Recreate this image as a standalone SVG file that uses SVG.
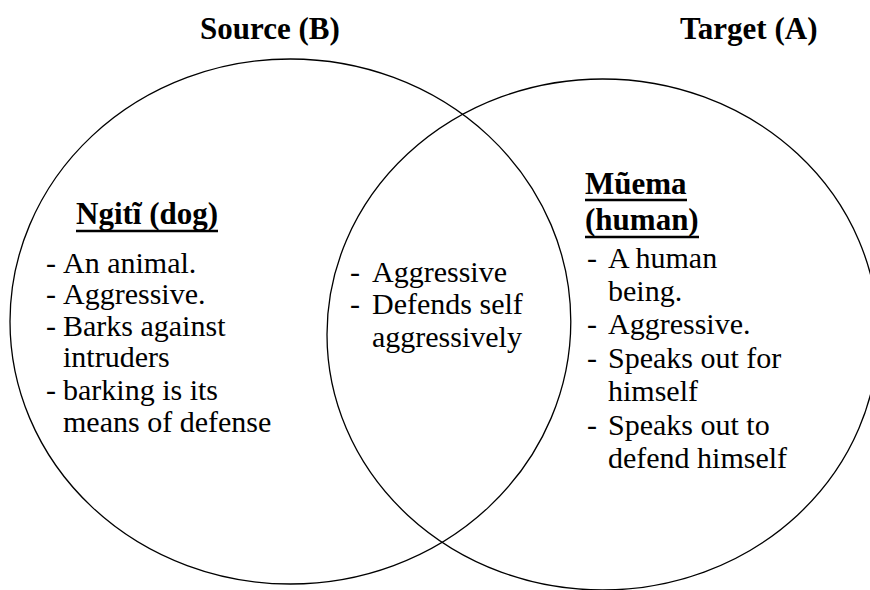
<svg xmlns="http://www.w3.org/2000/svg" width="870" height="590" viewBox="0 0 870 590">
  <style>
    .title { font-weight: bold; font-size: 31px; }
    .head { font-weight: bold; font-size: 31px; }
    .item { font-size: 30px; }
    .ring { fill: none; stroke: #000; stroke-width: 1.3; }
    .rule { stroke: #000; stroke-width: 2.4; }
  </style>
  <rect width="870" height="590" fill="#fff"/>

  <!-- set outlines -->
  <g id="sets">
    <ellipse id="source-set" class="ring" cx="290.4" cy="321.5" rx="280.4" ry="262.5"/>
    <ellipse id="target-set" class="ring" cx="602.6" cy="334.5" rx="275.6" ry="255.5"/>
  </g>

  <g id="labels" font-family="Liberation Serif, Times New Roman, Times, serif" fill="#000">
    <!-- set titles -->
    <g id="title-source"><text class="title" x="200" y="39">Source (B)</text></g>
    <g id="title-target"><text class="title" x="680" y="39">Target (A)</text></g>

    <!-- source-only region -->
    <g id="source-only">
      <text class="head" x="76" y="224">Ngitĩ (dog)</text>
      <line class="rule" x1="76" y1="231" x2="218" y2="231"/>
      <text class="item" x="46" y="273">-</text><text class="item" x="63" y="273">An animal.</text>
      <text class="item" x="46" y="304">-</text><text class="item" x="63" y="304">Aggressive.</text>
      <text class="item" x="46" y="336">-</text><text class="item" x="63" y="336">Barks against</text>
      <text class="item" x="63" y="367">intruders</text>
      <text class="item" x="46" y="400">-</text><text class="item" x="63" y="400">barking is its</text>
      <text class="item" x="63" y="432">means of defense</text>
    </g>

    <!-- shared region -->
    <g id="shared">
      <text class="item" x="350" y="282">-</text><text class="item" x="372" y="282">Aggressive</text>
      <text class="item" x="350" y="314">-</text><text class="item" x="372" y="314">Defends self</text>
      <text class="item" x="372" y="347">aggressively</text>
    </g>

    <!-- target-only region -->
    <g id="target-only">
      <text class="head" x="585" y="194">Mũema</text>
      <line class="rule" x1="585" y1="200" x2="687" y2="200"/>
      <text class="head" x="585" y="230">(human)</text>
      <line class="rule" x1="585" y1="237" x2="699" y2="237"/>
      <text class="item" x="587" y="268">-</text><text class="item" x="608" y="268">A human</text>
      <text class="item" x="608" y="301">being.</text>
      <text class="item" x="587" y="334">-</text><text class="item" x="608" y="334">Aggressive.</text>
      <text class="item" x="587" y="368">-</text><text class="item" x="608" y="368">Speaks out for</text>
      <text class="item" x="608" y="401">himself</text>
      <text class="item" x="587" y="435">-</text><text class="item" x="608" y="435">Speaks out to</text>
      <text class="item" x="608" y="468">defend himself</text>
    </g>
  </g>
</svg>
